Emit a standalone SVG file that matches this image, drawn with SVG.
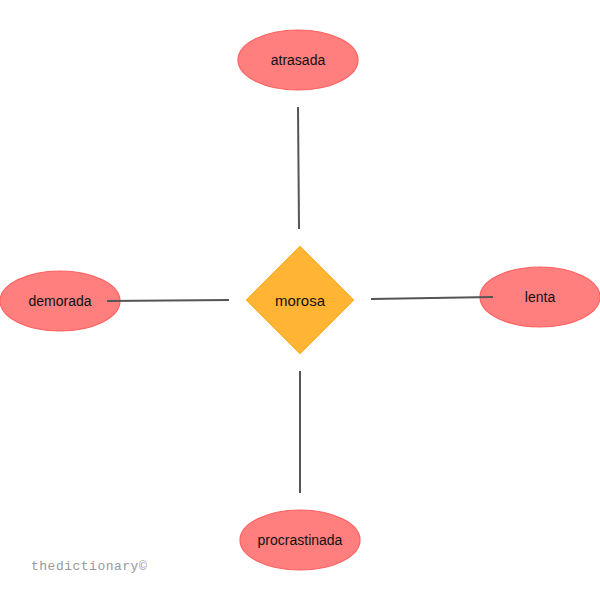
<svg xmlns="http://www.w3.org/2000/svg" width="600" height="600" viewBox="0 0 600 600">
<style>
.bg{fill:#ffffff}
.ell{fill:#ff7f7f;stroke:#ff6060;stroke-width:1.2}
.dia{fill:#ffb533;stroke:#ffb533}
.lbl{font-family:"Liberation Sans",Arial,sans-serif;font-size:14px;fill:#111;text-anchor:middle;dominant-baseline:central}
.conn line{stroke:#555;stroke-width:2}
.wm{font-family:"Liberation Mono","Courier New",monospace;font-size:13px;fill:#999;letter-spacing:0.5px}
</style>
<rect class="bg" x="0" y="0" width="600" height="600"/>
<g id="morosa">
<polygon class="dia" points="300,246 354,300 300,354 246,300"/>
<text class="lbl" x="300" y="300" style="font-size:15px">morosa</text>
</g>
<g id="atrasada">
<ellipse class="ell" cx="298" cy="60" rx="60" ry="30"/>
<text class="lbl" x="298" y="60">atrasada</text>
</g>
<g id="demorada">
<ellipse class="ell" cx="60" cy="301" rx="60" ry="30"/>
<text class="lbl" x="60" y="301">demorada</text>
</g>
<g id="lenta">
<ellipse class="ell" cx="540" cy="297" rx="60" ry="30"/>
<text class="lbl" x="540" y="297">lenta</text>
</g>
<g id="procrastinada">
<ellipse class="ell" cx="300" cy="540" rx="60" ry="30"/>
<text class="lbl" x="300" y="540">procrastinada</text>
</g>
<g id="connectors" class="conn">
<line x1="298" y1="107" x2="299" y2="229"/>
<line x1="107" y1="301" x2="229" y2="300"/>
<line x1="371" y1="299" x2="493" y2="297"/>
<line x1="300" y1="371" x2="300" y2="493"/>
</g>
<text class="wm" x="31" y="570">thedictionary©</text>
</svg>
